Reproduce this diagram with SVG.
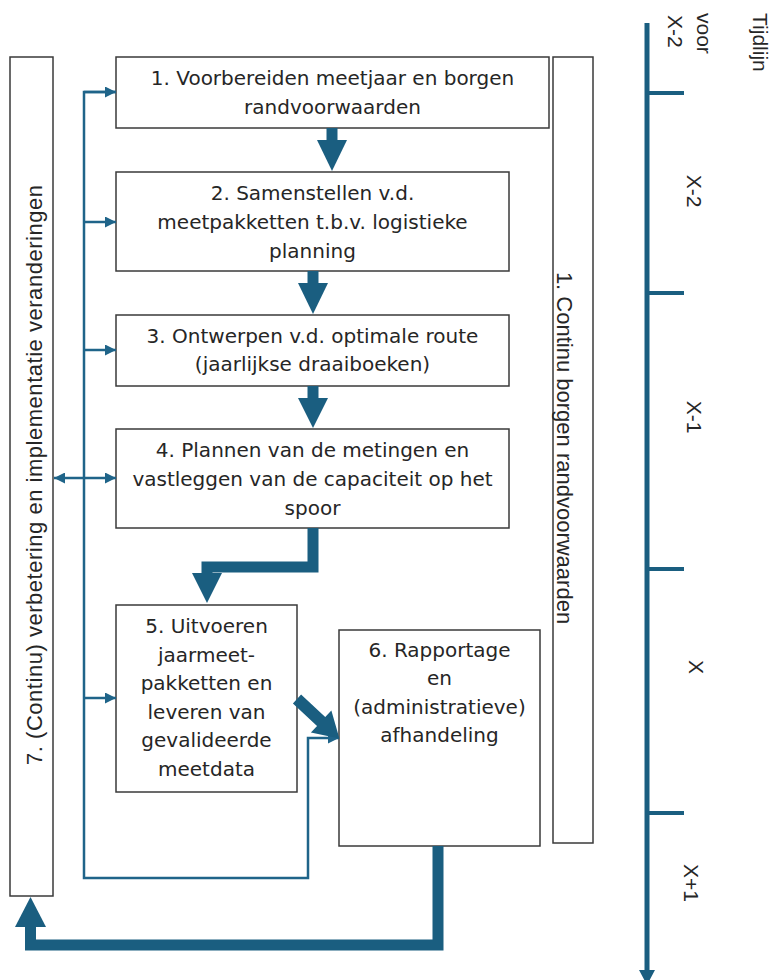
<svg xmlns="http://www.w3.org/2000/svg" width="773" height="980" viewBox="0 0 773 980">
<defs>
<style>
.box{fill:#fff;stroke:#3a3a3a;stroke-width:1.5}
.t{font-family:"DejaVu Sans",sans-serif;font-size:20px;fill:#262626;text-anchor:middle}
.a{font-family:"Liberation Sans",Arial,sans-serif;fill:#262626}
.thin{fill:none;stroke:#1f6489;stroke-width:2.5}
.thick{fill:none;stroke:#1a5e80;stroke-width:11;stroke-linejoin:miter}
.head{fill:#1a5e80}
</style>
<marker id="ah" viewBox="0 0 10 10" refX="10" refY="5" markerWidth="4.4" markerHeight="4.4" orient="auto-start-reverse" markerUnits="strokeWidth">
<path d="M0,0 L10,5 L0,10 Z" fill="#1f6489"/>
</marker>
</defs>

<g id="timeline">
<line x1="647" y1="23" x2="647" y2="972" stroke="#1a5e80" stroke-width="5"/>
<polygon points="639,970 655,970 647,985" fill="#1a5e80"/>
<g stroke="#1a5e80" stroke-width="4">
<line x1="647" y1="93" x2="684" y2="93"/>
<line x1="647" y1="293" x2="684" y2="293"/>
<line x1="647" y1="569" x2="684" y2="569"/>
<line x1="647" y1="813" x2="684" y2="813"/>
</g>
<text class="a" font-size="21" transform="translate(753,13) rotate(90)">Tijdlijn</text>
<text class="a" font-size="21" transform="translate(697,13) rotate(90)">voor</text>
<text class="a" font-size="21" transform="translate(668,15) rotate(90)">X-2</text>
<text class="a" font-size="21" text-anchor="middle" transform="translate(687,191) rotate(90)">X-2</text>
<text class="a" font-size="21" text-anchor="middle" transform="translate(687,417) rotate(90)">X-1</text>
<text class="a" font-size="21" text-anchor="middle" transform="translate(689,667) rotate(90)">X</text>
<text class="a" font-size="21" text-anchor="middle" transform="translate(684,883) rotate(90)">X+1</text>
</g>

<g id="node7">
<rect class="box" x="10" y="57" width="43" height="839"/>
<text class="a" font-size="22" text-anchor="middle" textLength="580" transform="translate(42,475) rotate(-90)">7. (Continu) verbetering en implementatie veranderingen</text>
</g>

<g id="node1r">
<rect class="box" x="553" y="57" width="40" height="786"/>
<text class="a" font-size="22" text-anchor="middle" transform="translate(557,448) rotate(90)">1. Continu borgen randvoorwaarden</text>
</g>

<g id="node1">
<rect class="box" x="116" y="57" width="433" height="71"/>
<text class="t" x="332.5" y="85">1. Voorbereiden meetjaar en borgen</text>
<text class="t" x="332.5" y="114">randvoorwaarden</text>
</g>

<g id="node2">
<rect class="box" x="116" y="172" width="393" height="99"/>
<text class="t" x="312.5" y="200">2. Samenstellen v.d.</text>
<text class="t" x="312.5" y="229">meetpakketten t.b.v. logistieke</text>
<text class="t" x="312.5" y="258">planning</text>
</g>

<g id="node3">
<rect class="box" x="116" y="315" width="393" height="71"/>
<text class="t" x="312.5" y="343">3. Ontwerpen v.d. optimale route</text>
<text class="t" x="312.5" y="371">(jaarlijkse draaiboeken)</text>
</g>

<g id="node4">
<rect class="box" x="116" y="429" width="393" height="99"/>
<text class="t" x="312.5" y="457">4. Plannen van de metingen en</text>
<text class="t" x="312.5" y="486">vastleggen van de capaciteit op het</text>
<text class="t" x="312.5" y="515">spoor</text>
</g>

<g id="node5">
<rect class="box" x="116" y="605" width="181" height="187"/>
<text class="t" x="206.5" y="633">5. Uitvoeren</text>
<text class="t" x="206.5" y="662">jaarmeet-</text>
<text class="t" x="206.5" y="690">pakketten en</text>
<text class="t" x="206.5" y="719">leveren van</text>
<text class="t" x="206.5" y="747">gevalideerde</text>
<text class="t" x="206.5" y="776">meetdata</text>
</g>

<g id="node6">
<rect class="box" x="339" y="630" width="201" height="216"/>
<text class="t" x="439.5" y="657">6. Rapportage</text>
<text class="t" x="439.5" y="685">en</text>
<text class="t" x="439.5" y="714">(administratieve)</text>
<text class="t" x="439.5" y="742">afhandeling</text>
</g>

<g id="connectors">
<path class="thin" d="M116,92 H84 V878 H308 V738 H339" marker-end="url(#ah)"/>
<path class="thin" d="M84,92 H116" marker-end="url(#ah)"/>
<path class="thin" d="M84,222 H116" marker-end="url(#ah)"/>
<path class="thin" d="M84,350 H116" marker-end="url(#ah)"/>
<path class="thin" d="M54,478 H116" marker-start="url(#ah)" marker-end="url(#ah)"/>
<path class="thin" d="M84,698 H116" marker-end="url(#ah)"/>

<path class="thick" d="M332,128 V142"/>
<polygon class="head" points="317,140 347,140 332,171"/>
<path class="thick" d="M313,271 V285"/>
<polygon class="head" points="298,283 328,283 313,314"/>
<path class="thick" d="M313,386 V400"/>
<polygon class="head" points="298,398 328,398 313,428"/>
<path class="thick" d="M313,528 V567 H207 V575"/>
<polygon class="head" points="192,573 222,573 207,603"/>
<g transform="translate(297,699) rotate(43)">
<path class="head" d="M0,-6 H33 V-15 L58,0 L33,15 V6 H0 Z"/>
</g>
<path class="thick" d="M438,846 V945 H30.5 V927"/>
<polygon class="head" points="15,927 46,927 30.5,897"/>
</g>
</svg>
